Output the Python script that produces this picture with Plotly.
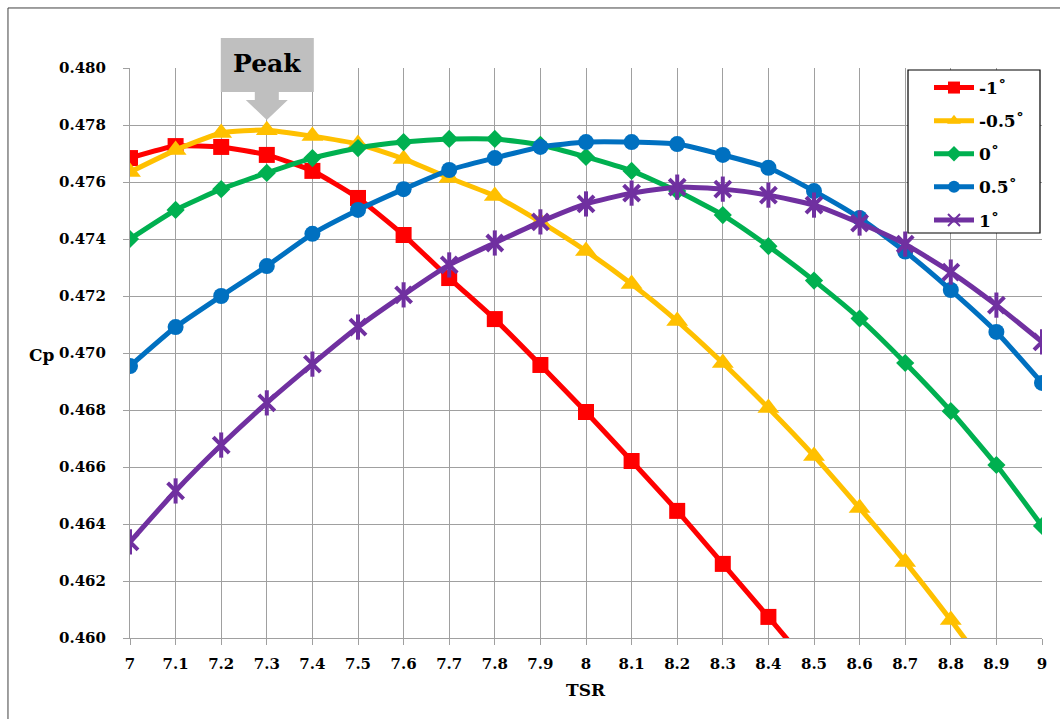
import plotly.graph_objects as go

# Tip speed ratio values
tsr = [7.0, 7.1, 7.2, 7.3, 7.4, 7.5, 7.6, 7.7, 7.8, 7.9, 8.0,
       8.1, 8.2, 8.3, 8.4, 8.5, 8.6, 8.7, 8.8, 8.9, 9.0]
tick_labels = ["7", "7.1", "7.2", "7.3", "7.4", "7.5", "7.6", "7.7", "7.8", "7.9", "8",
               "8.1", "8.2", "8.3", "8.4", "8.5", "8.6", "8.7", "8.8", "8.9", "9"]

# Power coefficient per pitch angle
cp_m1 = [0.47684, 0.47726, 0.47723, 0.47695, 0.47639, 0.47544, 0.47414, 0.47263,
         0.47119, 0.46958, 0.46793, 0.46621, 0.46446, 0.46260, 0.46074, 0.45885]
cp_m05 = [0.47635, 0.47712, 0.47772, 0.47782, 0.47761, 0.47733, 0.47681, 0.47614,
          0.47551, 0.47460, 0.47358, 0.47242, 0.47112, 0.46965, 0.46807, 0.46639,
          0.46456, 0.46267, 0.46063, 0.45850]
cp_0 = [0.47400, 0.47502, 0.47575, 0.47632, 0.47684, 0.47719, 0.47740, 0.47751,
        0.47751, 0.47730, 0.47688, 0.47639, 0.47568, 0.47484, 0.47375, 0.47254,
        0.47121, 0.46965, 0.46796, 0.46607, 0.46393]
cp_05 = [0.46954, 0.47091, 0.47200, 0.47305, 0.47418, 0.47502, 0.47575, 0.47642,
         0.47684, 0.47723, 0.47740, 0.47740, 0.47733, 0.47695, 0.47650, 0.47568,
         0.47474, 0.47356, 0.47221, 0.47074, 0.46895]
cp_1 = [0.46337, 0.46516, 0.46677, 0.46825, 0.46961, 0.47091, 0.47204, 0.47309,
        0.47386, 0.47460, 0.47523, 0.47561, 0.47582, 0.47575, 0.47554, 0.47519,
        0.47456, 0.47382, 0.47284, 0.47168, 0.47039]

names = ["-1˚", "-0.5˚", "0˚", "0.5˚", "1˚"]
colors = ["#FF0000", "#FFC000", "#00B050", "#0070C0", "#7030A0"]

peak_tsr = 7.3
x_min, x_max = 7.0, 9.0
y_min, y_max = 0.460, 0.480

FONT = "DejaVu Serif"

fig = go.Figure()

series = [
    (cp_m1, names[0], colors[0], "square", 16),
    (cp_m05, names[1], colors[1], "triangle-up", 19),
    (cp_0, names[2], colors[2], "diamond", 14),
    (cp_05, names[3], colors[3], "circle", 16),
]
for i, (vals, name, col, sym, size) in enumerate(series):
    fig.add_trace(go.Scatter(
        x=tsr[:len(vals)], y=vals, name=name, mode="lines+markers",
        legendgroup=f"g{i}",
        line=dict(color=col, width=5, shape="spline", smoothing=0.5),
        marker=dict(symbol=sym, size=size, color=col),
    ))

# 1° series: star marker built from an X plus a vertical bar
fig.add_trace(go.Scatter(
    x=tsr, y=cp_1, name=names[4], mode="lines+markers", legendgroup="g4",
    line=dict(color=colors[4], width=5, shape="spline", smoothing=0.5),
    marker=dict(symbol="x-thin-open", size=16, color=colors[4],
                line=dict(color=colors[4], width=4)),
))
fig.add_trace(go.Scatter(
    x=tsr, y=cp_1, name=names[4], mode="markers", showlegend=False,
    legendgroup="g4",
    marker=dict(symbol="line-ns-open", size=18, color=colors[4],
                line=dict(color=colors[4], width=4)),
))

grid = "#A0A0A0"
fig.update_xaxes(
    range=[x_min, x_max], tickvals=tsr, ticktext=tick_labels,
    showgrid=True, gridcolor=grid, gridwidth=1,
    showline=True, linecolor=grid, linewidth=1,
    ticks="outside", ticklen=6, tickcolor=grid, ticklabelstandoff=6,
    tickfont=dict(family=FONT, size=15, color="#000000", weight="bold"),
    zeroline=False, mirror=False,
)
fig.update_yaxes(
    range=[y_min, y_max], dtick=0.002, tick0=0.46, tickformat=".3f",
    showgrid=True, gridcolor=grid, gridwidth=1,
    showline=True, linecolor=grid, linewidth=1,
    ticks="outside", ticklen=6, tickcolor=grid, ticklabelstandoff=14,
    tickfont=dict(family=FONT, size=15, color="#000000", weight="bold"),
    zeroline=False,
)

w_px = 912.0
h_px = 570.0
def xpx(px_):
    return (px_ - 130) / w_px
def yp(py):
    return (638 - py) / h_px

# Outer chart border
shapes = [dict(type="rect", xref="paper", yref="paper",
               x0=-0.1338, x1=1.03, y0=-0.16, y1=1.1053,
               line=dict(color="#404040", width=1), fillcolor="rgba(0,0,0,0)",
               layer="below")]

# Legend frame
shapes.append(dict(type="rect", xref="paper", yref="paper",
                   x0=xpx(908), x1=xpx(1040), y0=yp(233), y1=yp(70),
                   line=dict(color="#000000", width=1.2), fillcolor="#FFFFFF",
                   layer="above"))

# Block-arrow callout pointing at the peak
px = (peak_tsr - x_min) / (x_max - x_min)
def xp(dx):
    return px + dx / w_px
callout = (
    f"M {xp(-46)} {yp(38)} L {xp(47)} {yp(38)} L {xp(47)} {yp(92)} "
    f"L {xp(12)} {yp(92)} L {xp(12)} {yp(100)} L {xp(21)} {yp(100)} "
    f"L {xp(0)} {yp(120)} L {xp(-21)} {yp(100)} L {xp(-12)} {yp(100)} "
    f"L {xp(-12)} {yp(92)} L {xp(-46)} {yp(92)} Z"
)
shapes.append(dict(type="path", xref="paper", yref="paper", path=callout,
                   fillcolor="#BFBFBF", line=dict(width=0), layer="above"))

annotations = [
    dict(text="Peak", xref="paper", yref="paper", x=xp(0), y=yp(64),
         showarrow=False, xanchor="center", yanchor="middle",
         font=dict(family=FONT, size=25, color="#000000", weight="bold")),
    dict(text="Cp", xref="paper", yref="paper", x=xpx(42), y=yp(355),
         showarrow=False, xanchor="center", yanchor="middle",
         font=dict(family=FONT, size=17, color="#000000", weight="bold")),
    dict(text="TSR", xref="paper", yref="paper", x=xpx(586), y=yp(690),
         showarrow=False, xanchor="center", yanchor="middle",
         font=dict(family=FONT, size=17, color="#000000", weight="bold")),
]

fig.update_layout(
    width=1060, height=719,
    margin=dict(l=130, r=18, t=68, b=81),
    paper_bgcolor="#FFFFFF", plot_bgcolor="#FFFFFF",
    showlegend=True,
    legend=dict(
        x=xpx(929), y=yp(70), xanchor="left", yanchor="top",
        bgcolor="rgba(0,0,0,0)", borderwidth=0,
        font=dict(family=FONT, size=17, color="#000000", weight="bold"),
        itemwidth=40, tracegroupgap=8, itemsizing="constant",
    ),
    shapes=shapes,
    annotations=annotations,
)

fig.write_html("out.html")
